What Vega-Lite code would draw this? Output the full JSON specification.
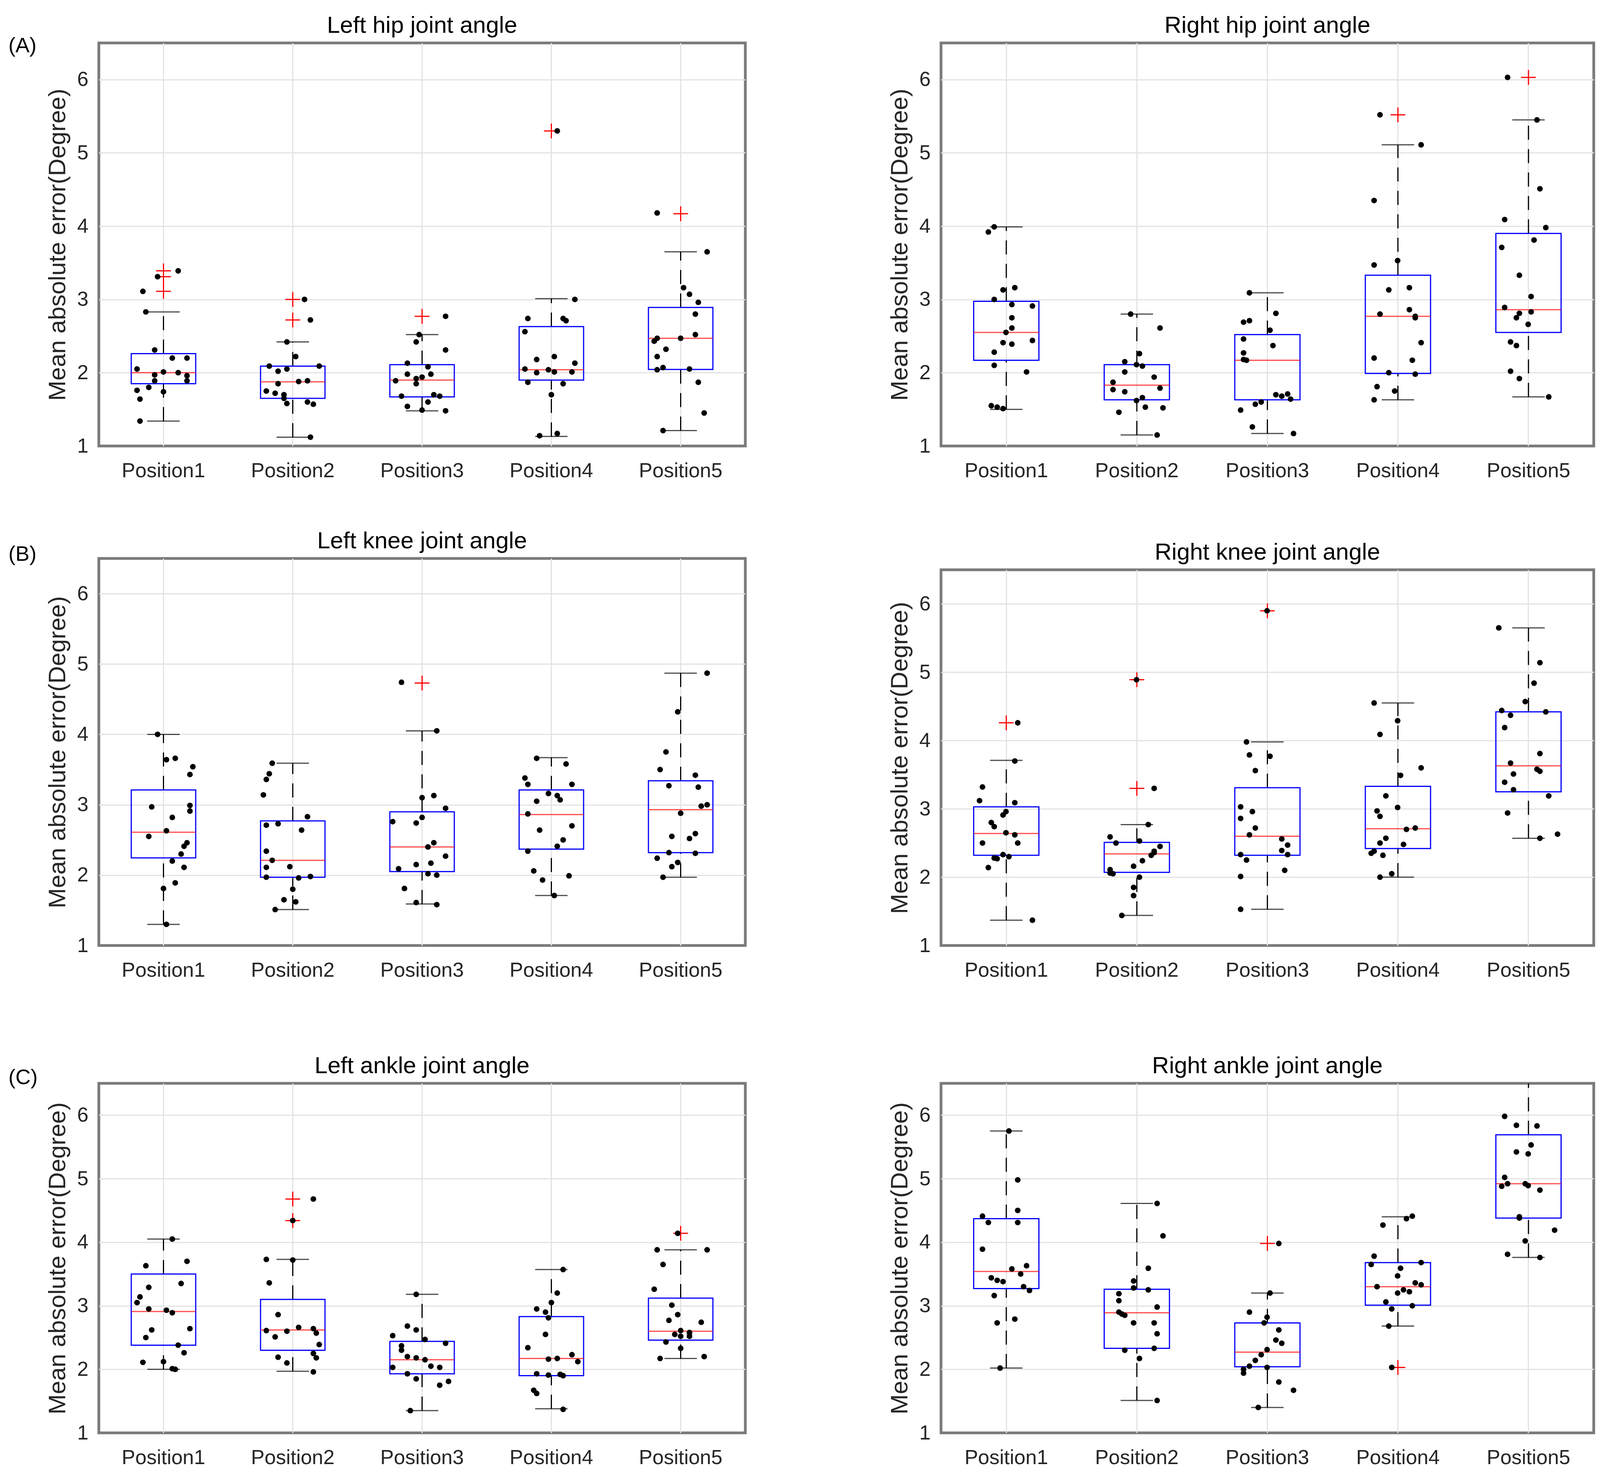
{
  "$schema": "https://vega.github.io/schema/vega-lite/v6.json",
  "background": "white",
  "padding": {"left": 21, "top": 32, "right": 0, "bottom": 0},
  "datasets": {
    "groups": [
      {"panel": "LH", "pos": "Position1", "q1": 1.85, "med": 2.0, "q3": 2.26, "lo": 1.34, "hi": 2.83, "out": [3.39, 3.31, 3.11],
       "v": [3.39, 3.31, 3.11, 2.83, 2.31, 2.2, 2.2, 2.05, 2.01, 2.0, 1.97, 1.96, 1.89, 1.89, 1.8, 1.76, 1.74, 1.64, 1.34],
       "subject": [15, 8, 3, 4, 7, 13, 18, 1, 10, 15, 7, 18, 7, 18, 5, 1, 10, 2, 2]},
      {"panel": "LH", "pos": "Position2", "q1": 1.65, "med": 1.875, "q3": 2.09, "lo": 1.12, "hi": 2.42, "out": [3.0, 2.72],
       "v": [3.0, 2.72, 2.42, 2.22, 2.09, 2.09, 2.05, 2.02, 1.89, 1.88, 1.85, 1.75, 1.72, 1.7, 1.65, 1.6, 1.58, 1.57, 1.12],
       "subject": [14, 16, 8, 11, 2, 19, 8, 5, 15, 12, 5, 1, 4, 7, 7, 15, 8, 17, 16]},
      {"panel": "LH", "pos": "Position3", "q1": 1.67, "med": 1.9, "q3": 2.11, "lo": 1.48, "hi": 2.52, "out": [2.77],
       "v": [2.77, 2.52, 2.42, 2.31, 2.13, 2.08, 1.98, 1.98, 1.94, 1.92, 1.89, 1.85, 1.7, 1.68, 1.68, 1.6, 1.54, 1.49, 1.48],
       "subject": [18, 9, 8, 18, 5, 12, 5, 13, 10, 8, 1, 8, 14, 3, 16, 12, 5, 10, 18]},
      {"panel": "LH", "pos": "Position4", "q1": 1.9, "med": 2.04, "q3": 2.63, "lo": 1.13, "hi": 3.01, "out": [5.3],
       "v": [5.3, 3.0, 2.74, 2.74, 2.71, 2.56, 2.22, 2.18, 2.13, 2.05, 2.04, 2.01, 2.01, 2.0, 1.87, 1.85, 1.7, 1.17, 1.14],
       "subject": [12, 18, 2, 14, 15, 1, 11, 5, 18, 1, 9, 11, 17, 5, 2, 14, 10, 12, 6]},
      {"panel": "LH", "pos": "Position5", "q1": 2.045, "med": 2.47, "q3": 2.89, "lo": 1.21, "hi": 3.65, "out": [4.17],
       "v": [4.18, 3.65, 3.16, 3.07, 2.96, 2.8, 2.52, 2.47, 2.47, 2.43, 2.32, 2.22, 2.07, 2.05, 2.04, 1.87, 1.45, 1.21],
       "subject": [2, 19, 11, 13, 16, 15, 15, 2, 10, 1, 5, 2, 4, 13, 2, 16, 18, 4]},

      {"panel": "RH", "pos": "Position1", "q1": 2.17, "med": 2.55, "q3": 2.975, "lo": 1.5, "hi": 3.99, "out": [],
       "v": [3.99, 3.92, 3.16, 3.13, 3.0, 2.93, 2.91, 2.75, 2.61, 2.55, 2.44, 2.41, 2.39, 2.28, 2.1, 2.01, 1.55, 1.53, 1.51],
       "subject": [6, 4, 13, 9, 6, 12, 19, 12, 12, 10, 19, 9, 12, 6, 6, 17, 5, 7, 9]},
      {"panel": "RH", "pos": "Position2", "q1": 1.63, "med": 1.83, "q3": 2.11, "lo": 1.15, "hi": 2.8, "out": [],
       "v": [2.8, 2.61, 2.26, 2.15, 2.11, 2.09, 2.01, 1.94, 1.87, 1.79, 1.77, 1.74, 1.66, 1.62, 1.53, 1.52, 1.46, 1.15],
       "subject": [8, 18, 11, 6, 10, 12, 6, 16, 2, 18, 2, 6, 12, 10, 13, 19, 4, 17]},
      {"panel": "RH", "pos": "Position3", "q1": 1.63, "med": 2.17, "q3": 2.52, "lo": 1.17, "hi": 3.09, "out": [],
       "v": [3.09, 2.81, 2.71, 2.69, 2.58, 2.46, 2.37, 2.27, 2.18, 2.17, 1.71, 1.7, 1.68, 1.64, 1.6, 1.57, 1.49, 1.26, 1.17],
       "subject": [4, 13, 4, 2, 11, 2, 12, 2, 2, 3, 17, 13, 15, 18, 8, 6, 1, 5, 19]},
      {"panel": "RH", "pos": "Position4", "q1": 1.99, "med": 2.77, "q3": 3.33, "lo": 1.63, "hi": 5.11, "out": [5.52],
       "v": [5.52, 5.11, 4.35, 3.53, 3.47, 3.16, 3.13, 2.86, 2.8, 2.77, 2.75, 2.41, 2.2, 2.17, 2.0, 1.98, 1.81, 1.75, 1.63],
       "subject": [4, 18, 2, 10, 2, 14, 7, 14, 4, 16, 16, 18, 2, 15, 7, 16, 3, 9, 2]},
      {"panel": "RH", "pos": "Position5", "q1": 2.55, "med": 2.86, "q3": 3.9, "lo": 1.67, "hi": 5.45, "out": [6.03],
       "v": [6.03, 5.45, 4.51, 4.09, 3.98, 3.81, 3.71, 3.33, 3.04, 2.89, 2.83, 2.81, 2.75, 2.66, 2.42, 2.37, 2.02, 1.92, 1.67],
       "subject": [3, 13, 14, 2, 16, 12, 1, 7, 11, 2, 11, 7, 6, 10, 4, 6, 4, 7, 17]},

      {"panel": "LK", "pos": "Position1", "q1": 2.245, "med": 2.61, "q3": 3.21, "lo": 1.3, "hi": 4.0, "out": [],
       "v": [4.0, 3.66, 3.64, 3.54, 3.43, 2.99, 2.97, 2.91, 2.82, 2.63, 2.55, 2.46, 2.41, 2.3, 2.2, 2.11, 1.89, 1.81, 1.3],
       "subject": [8, 14, 11, 20, 19, 19, 6, 19, 13, 11, 5, 18, 17, 16, 13, 17, 14, 10, 11]},
      {"panel": "LK", "pos": "Position2", "q1": 1.97, "med": 2.21, "q3": 2.77, "lo": 1.51, "hi": 3.59, "out": [],
       "v": [3.59, 3.44, 3.36, 3.14, 2.83, 2.73, 2.71, 2.64, 2.34, 2.21, 2.12, 2.11, 1.98, 1.97, 1.96, 1.8, 1.65, 1.62, 1.51],
       "subject": [3, 2, 1, 0, 15, 5, 1, 13, 1, 3, 9, 1, 16, 1, 12, 10, 7, 11, 4]},
      {"panel": "LK", "pos": "Position3", "q1": 2.05, "med": 2.4, "q3": 2.9, "lo": 1.59, "hi": 4.05, "out": [4.73],
       "v": [4.74, 4.05, 3.13, 3.1, 2.95, 2.82, 2.76, 2.74, 2.46, 2.4, 2.27, 2.17, 2.15, 2.09, 2.02, 2.0, 1.81, 1.61, 1.58],
       "subject": [3, 15, 14, 10, 18, 10, 0, 8, 14, 12, 18, 13, 8, 2, 12, 15, 4, 8, 15]},
      {"panel": "LK", "pos": "Position4", "q1": 2.37, "med": 2.86, "q3": 3.21, "lo": 1.71, "hi": 3.67, "out": [],
       "v": [3.66, 3.58, 3.38, 3.29, 3.29, 3.16, 3.13, 3.07, 3.05, 2.87, 2.7, 2.64, 2.5, 2.41, 2.34, 2.06, 1.99, 1.93, 1.71],
       "subject": [5, 15, 1, 2, 17, 9, 12, 13, 5, 2, 17, 6, 14, 12, 2, 4, 16, 7, 11]},
      {"panel": "LK", "pos": "Position5", "q1": 2.32, "med": 2.93, "q3": 3.34, "lo": 1.97, "hi": 4.87, "out": [],
       "v": [4.87, 4.32, 3.75, 3.5, 3.42, 3.27, 3.25, 3.0, 2.98, 2.88, 2.59, 2.55, 2.52, 2.32, 2.31, 2.24, 2.18, 2.12, 1.97],
       "subject": [19, 9, 5, 3, 15, 6, 16, 19, 17, 10, 15, 7, 13, 6, 15, 2, 9, 7, 4]},

      {"panel": "RK", "pos": "Position1", "q1": 2.32, "med": 2.64, "q3": 3.03, "lo": 1.37, "hi": 3.71, "out": [4.26],
       "v": [4.26, 3.7, 3.32, 3.12, 3.09, 2.96, 2.91, 2.8, 2.74, 2.65, 2.62, 2.5, 2.5, 2.33, 2.3, 2.28, 2.27, 2.14, 1.37],
       "subject": [14, 13, 2, 1, 13, 10, 9, 5, 6, 10, 13, 2, 14, 9, 11, 6, 7, 4, 19]},
      {"panel": "RK", "pos": "Position2", "q1": 2.07, "med": 2.34, "q3": 2.51, "lo": 1.44, "hi": 2.77, "out": [4.89, 3.3],
       "v": [4.89, 3.3, 2.77, 2.59, 2.53, 2.5, 2.45, 2.38, 2.36, 2.32, 2.24, 2.16, 2.11, 2.06, 2.05, 2.0, 1.85, 1.73, 1.44],
       "subject": [10, 16, 14, 1, 11, 3, 18, 16, 16, 15, 12, 9, 1, 1, 2, 11, 9, 9, 5]},
      {"panel": "RK", "pos": "Position3", "q1": 2.32, "med": 2.6, "q3": 3.31, "lo": 1.53, "hi": 3.98, "out": [5.9],
       "v": [5.9, 3.98, 3.79, 3.77, 3.56, 3.03, 2.96, 2.86, 2.72, 2.62, 2.56, 2.47, 2.39, 2.33, 2.33, 2.25, 2.1, 2.01, 1.53],
       "subject": [10, 3, 4, 11, 6, 1, 5, 1, 6, 4, 15, 17, 15, 1, 17, 3, 16, 1, 1]},
      {"panel": "RK", "pos": "Position4", "q1": 2.42, "med": 2.71, "q3": 3.33, "lo": 2.0, "hi": 4.55, "out": [],
       "v": [4.55, 4.29, 4.09, 3.6, 3.49, 3.19, 3.02, 2.97, 2.89, 2.72, 2.7, 2.57, 2.5, 2.48, 2.38, 2.35, 2.32, 2.05, 2.0],
       "subject": [2, 10, 4, 18, 11, 6, 10, 3, 4, 16, 13, 6, 4, 12, 2, 1, 5, 8, 4]},
      {"panel": "RK", "pos": "Position5", "q1": 3.25, "med": 3.63, "q3": 4.42, "lo": 2.57, "hi": 5.65, "out": [],
       "v": [5.65, 5.14, 4.84, 4.57, 4.44, 4.42, 4.37, 4.19, 3.81, 3.67, 3.58, 3.55, 3.51, 3.39, 3.28, 3.19, 2.94, 2.63, 2.57],
       "subject": [0, 14, 12, 9, 1, 16, 4, 2, 14, 4, 13, 14, 5, 2, 5, 17, 3, 20, 14]},

      {"panel": "LA", "pos": "Position1", "q1": 2.38, "med": 2.91, "q3": 3.5, "lo": 2.0, "hi": 4.05, "out": [],
       "v": [4.05, 3.7, 3.63, 3.35, 3.29, 3.14, 3.05, 2.95, 2.93, 2.89, 2.64, 2.62, 2.5, 2.38, 2.26, 2.12, 2.11, 2.01, 2.0],
       "subject": [13, 18, 4, 16, 5, 2, 1, 5, 11, 13, 19, 6, 4, 15, 17, 10, 3, 13, 14]},
      {"panel": "LA", "pos": "Position2", "q1": 2.3, "med": 2.62, "q3": 3.1, "lo": 1.97, "hi": 3.73, "out": [4.68, 4.34],
       "v": [4.68, 4.34, 3.73, 3.72, 3.36, 2.86, 2.66, 2.64, 2.61, 2.6, 2.57, 2.51, 2.39, 2.25, 2.19, 2.18, 2.1, 1.96],
       "subject": [17, 10, 1, 10, 2, 5, 12, 17, 1, 8, 18, 4, 19, 17, 5, 18, 8, 17]},
      {"panel": "LA", "pos": "Position3", "q1": 1.93, "med": 2.15, "q3": 2.44, "lo": 1.35, "hi": 3.18, "out": [],
       "v": [3.18, 2.68, 2.62, 2.53, 2.47, 2.41, 2.37, 2.3, 2.2, 2.18, 2.15, 2.05, 2.03, 2.03, 1.93, 1.85, 1.81, 1.75, 1.35],
       "subject": [8, 5, 8, 0, 11, 18, 3, 3, 5, 8, 11, 13, 0, 16, 5, 8, 19, 16, 6]},
      {"panel": "LA", "pos": "Position4", "q1": 1.9, "med": 2.17, "q3": 2.83, "lo": 1.38, "hi": 3.57, "out": [],
       "v": [3.57, 3.2, 3.05, 2.95, 2.9, 2.81, 2.55, 2.34, 2.23, 2.17, 2.16, 2.12, 1.93, 1.92, 1.91, 1.9, 1.67, 1.62, 1.37],
       "subject": [14, 12, 10, 5, 8, 9, 8, 2, 17, 12, 9, 19, 5, 13, 9, 14, 4, 5, 14]},
      {"panel": "LA", "pos": "Position5", "q1": 2.46, "med": 2.6, "q3": 3.12, "lo": 2.17, "hi": 3.88, "out": [4.14],
       "v": [4.14, 3.88, 3.88, 3.65, 3.26, 3.01, 2.86, 2.77, 2.74, 2.61, 2.58, 2.57, 2.55, 2.52, 2.52, 2.43, 2.33, 2.2, 2.17],
       "subject": [9, 2, 19, 4, 1, 7, 9, 6, 17, 10, 13, 13, 8, 10, 13, 5, 10, 18, 3]},

      {"panel": "RA", "pos": "Position1", "q1": 3.27, "med": 3.54, "q3": 4.37, "lo": 2.02, "hi": 5.75, "out": [],
       "v": [5.75, 4.98, 4.5, 4.41, 4.31, 4.31, 3.89, 3.63, 3.58, 3.5, 3.44, 3.4, 3.38, 3.3, 3.24, 3.16, 2.79, 2.73, 2.02],
       "subject": [11, 14, 14, 2, 4, 14, 2, 17, 12, 15, 5, 7, 9, 16, 18, 6, 13, 7, 8]},
      {"panel": "RA", "pos": "Position2", "q1": 2.33, "med": 2.89, "q3": 3.26, "lo": 1.51, "hi": 4.61, "out": [],
       "v": [4.61, 4.1, 3.59, 3.39, 3.28, 3.25, 3.19, 3.08, 2.98, 2.9, 2.87, 2.85, 2.73, 2.73, 2.56, 2.33, 2.3, 2.17, 1.51],
       "subject": [17, 19, 14, 9, 9, 14, 4, 4, 17, 4, 5, 6, 9, 16, 17, 16, 6, 11, 17]},
      {"panel": "RA", "pos": "Position3", "q1": 2.04, "med": 2.27, "q3": 2.73, "lo": 1.4, "hi": 3.2, "out": [3.98],
       "v": [3.98, 3.2, 2.9, 2.82, 2.73, 2.62, 2.46, 2.41, 2.31, 2.23, 2.14, 2.05, 2.03, 2.0, 1.94, 1.8, 1.67, 1.4],
       "subject": [14, 11, 4, 10, 9, 14, 13, 15, 10, 8, 6, 4, 10, 2, 2, 14, 19, 7]},
      {"panel": "RA", "pos": "Position4", "q1": 3.01, "med": 3.3, "q3": 3.68, "lo": 2.68, "hi": 4.4, "out": [2.03],
       "v": [4.41, 4.37, 4.27, 3.78, 3.68, 3.65, 3.59, 3.47, 3.36, 3.33, 3.3, 3.25, 3.22, 3.2, 3.06, 3.0, 2.95, 2.68, 2.03],
       "subject": [15, 13, 5, 2, 18, 1, 11, 10, 16, 18, 3, 12, 14, 10, 6, 15, 8, 7, 8]},
      {"panel": "RA", "pos": "Position5", "q1": 4.38, "med": 4.92, "q3": 5.69, "lo": 3.76, "hi": 6.8, "out": [],
       "v": [6.8, 5.98, 5.84, 5.83, 5.53, 5.42, 5.39, 5.02, 4.92, 4.92, 4.89, 4.88, 4.82, 4.4, 4.38, 4.19, 4.02, 3.81, 3.76],
       "subject": [10, 2, 6, 13, 11, 6, 10, 2, 3, 9, 10, 1, 14, 7, 7, 19, 9, 3, 14]}
    ]
  },
  "hconcat": [
    {
      "spacing": 117,
      "vconcat": [
        {
          "title": {"text": "(A)", "anchor": "start", "frame": "bounds", "orient": "top", "align": "left", "baseline": "alphabetic", "offset": -155, "dx": -91, "fontSize": 54, "color": "#000000"},
          "hconcat": [
            {
              "width": 1655, "height": 1032,
              "title": "Left hip joint angle",
              "data": {"name": "groups"},
              "transform": [{"filter": "datum.panel === 'LH'"}],
              "encoding": {"x": {"field": "pos", "type": "nominal", "scale": {"type": "band", "paddingInner": 0.5, "paddingOuter": 0.25}, "axis": {"title": null, "labelAngle": 0, "labelPadding": 38, "labelLimit": 500}}},
              "layer": [
                {"mark": {"type": "rule", "color": "#000000", "strokeWidth": 3, "strokeDash": [36, 24], "clip": true},
                 "encoding": {"y": {"field": "q3", "type": "quantitative", "scale": {"domain": [1, 6.5], "nice": false, "zero": false}, "title": "Mean absolute error(Degree)", "axis": {"values": [1, 2, 3, 4, 5, 6], "format": "d", "labelPadding": 27, "titlePadding": 18, "gridColor": {"condition": {"test": "datum.value === 1", "value": "transparent"}, "value": "#e3e3e3"}}}, "y2": {"field": "hi"}}},
                {"mark": {"type": "rule", "color": "#000000", "strokeWidth": 3, "strokeDash": [36, 24], "clip": true},
                 "encoding": {"y": {"field": "lo", "type": "quantitative", "title": "Mean absolute error(Degree)"}, "y2": {"field": "q1"}}},
                {"mark": {"type": "tick", "color": "#000000", "thickness": 3, "size": 83, "clip": true},
                 "encoding": {"y": {"field": "hi", "type": "quantitative", "title": "Mean absolute error(Degree)"}}},
                {"mark": {"type": "tick", "color": "#000000", "thickness": 3, "size": 83, "clip": true},
                 "encoding": {"y": {"field": "lo", "type": "quantitative", "title": "Mean absolute error(Degree)"}}},
                {"mark": {"type": "bar", "filled": false, "color": "#0000ff", "strokeWidth": 3, "width": 165},
                 "encoding": {"y": {"field": "q1", "type": "quantitative", "title": "Mean absolute error(Degree)"}, "y2": {"field": "q3"}}},
                {"mark": {"type": "tick", "color": "#ff0000", "thickness": 3, "size": 165},
                 "encoding": {"y": {"field": "med", "type": "quantitative", "title": "Mean absolute error(Degree)"}}},
                {"transform": [{"flatten": ["out"]}],
                 "mark": {"type": "point", "shape": "M-1,0H1M0,-1V1", "size": 1444, "color": "#ff0000", "strokeWidth": 3, "filled": false, "opacity": 1},
                 "encoding": {"y": {"field": "out", "type": "quantitative", "title": "Mean absolute error(Degree)"}}},
                {"transform": [{"flatten": ["v", "subject"]}],
                 "mark": {"type": "circle", "size": 210, "color": "#000000", "opacity": 1, "clip": true},
                 "encoding": {"y": {"field": "v", "type": "quantitative", "title": "Mean absolute error(Degree)"}, "xOffset": {"field": "subject", "type": "nominal", "scale": {"type": "point", "domain": [0, 1, 2, 3, 4, 5, 6, 7, 8, 9, 10, 11, 12, 13, 14, 15, 16, 17, 18, 19, 20], "padding": 15}}}}
              ]
            }
          ]
        },
        {
          "spacing": 182,
          "vconcat": [
            {
              "title": {"text": "(B)", "anchor": "start", "frame": "bounds", "orient": "top", "align": "left", "baseline": "alphabetic", "offset": -137, "dx": -91, "fontSize": 54, "color": "#000000"},
              "hconcat": [
                {
                  "width": 1655, "height": 991,
                  "title": "Left knee joint angle",
                  "data": {"name": "groups"},
                  "transform": [{"filter": "datum.panel === 'LK'"}],
                  "encoding": {"x": {"field": "pos", "type": "nominal", "scale": {"type": "band", "paddingInner": 0.5, "paddingOuter": 0.25}, "axis": {"title": null, "labelAngle": 0, "labelPadding": 38, "labelLimit": 500}}},
                  "layer": [
                    {"mark": {"type": "rule", "color": "#000000", "strokeWidth": 3, "strokeDash": [36, 24], "clip": true},
                     "encoding": {"y": {"field": "q3", "type": "quantitative", "scale": {"domain": [1, 6.5], "nice": false, "zero": false}, "title": "Mean absolute error(Degree)", "axis": {"values": [1, 2, 3, 4, 5, 6], "format": "d", "labelPadding": 27, "titlePadding": 18, "gridColor": {"condition": {"test": "datum.value === 1", "value": "transparent"}, "value": "#e3e3e3"}}}, "y2": {"field": "hi"}}},
                    {"mark": {"type": "rule", "color": "#000000", "strokeWidth": 3, "strokeDash": [36, 24], "clip": true},
                     "encoding": {"y": {"field": "lo", "type": "quantitative", "title": "Mean absolute error(Degree)"}, "y2": {"field": "q1"}}},
                    {"mark": {"type": "tick", "color": "#000000", "thickness": 3, "size": 83, "clip": true},
                     "encoding": {"y": {"field": "hi", "type": "quantitative", "title": "Mean absolute error(Degree)"}}},
                    {"mark": {"type": "tick", "color": "#000000", "thickness": 3, "size": 83, "clip": true},
                     "encoding": {"y": {"field": "lo", "type": "quantitative", "title": "Mean absolute error(Degree)"}}},
                    {"mark": {"type": "bar", "filled": false, "color": "#0000ff", "strokeWidth": 3, "width": 165},
                     "encoding": {"y": {"field": "q1", "type": "quantitative", "title": "Mean absolute error(Degree)"}, "y2": {"field": "q3"}}},
                    {"mark": {"type": "tick", "color": "#ff0000", "thickness": 3, "size": 165},
                     "encoding": {"y": {"field": "med", "type": "quantitative", "title": "Mean absolute error(Degree)"}}},
                    {"transform": [{"flatten": ["out"]}],
                     "mark": {"type": "point", "shape": "M-1,0H1M0,-1V1", "size": 1444, "color": "#ff0000", "strokeWidth": 3, "filled": false, "opacity": 1},
                     "encoding": {"y": {"field": "out", "type": "quantitative", "title": "Mean absolute error(Degree)"}}},
                    {"transform": [{"flatten": ["v", "subject"]}],
                     "mark": {"type": "circle", "size": 210, "color": "#000000", "opacity": 1, "clip": true},
                     "encoding": {"y": {"field": "v", "type": "quantitative", "title": "Mean absolute error(Degree)"}, "xOffset": {"field": "subject", "type": "nominal", "scale": {"type": "point", "domain": [0, 1, 2, 3, 4, 5, 6, 7, 8, 9, 10, 11, 12, 13, 14, 15, 16, 17, 18, 19, 20], "padding": 15}}}}
                  ]
                }
              ]
            },
            {
              "title": {"text": "(C)", "anchor": "start", "frame": "bounds", "orient": "top", "align": "left", "baseline": "alphabetic", "offset": -133, "dx": -91, "fontSize": 54, "color": "#000000"},
              "hconcat": [
                {
                  "width": 1655, "height": 895,
                  "title": "Left ankle joint angle",
                  "data": {"name": "groups"},
                  "transform": [{"filter": "datum.panel === 'LA'"}],
                  "encoding": {"x": {"field": "pos", "type": "nominal", "scale": {"type": "band", "paddingInner": 0.5, "paddingOuter": 0.25}, "axis": {"title": null, "labelAngle": 0, "labelPadding": 38, "labelLimit": 500}}},
                  "layer": [
                    {"mark": {"type": "rule", "color": "#000000", "strokeWidth": 3, "strokeDash": [36, 24], "clip": true},
                     "encoding": {"y": {"field": "q3", "type": "quantitative", "scale": {"domain": [1, 6.5], "nice": false, "zero": false}, "title": "Mean absolute error(Degree)", "axis": {"values": [1, 2, 3, 4, 5, 6], "format": "d", "labelPadding": 27, "titlePadding": 18, "gridColor": {"condition": {"test": "datum.value === 1", "value": "transparent"}, "value": "#e3e3e3"}}}, "y2": {"field": "hi"}}},
                    {"mark": {"type": "rule", "color": "#000000", "strokeWidth": 3, "strokeDash": [36, 24], "clip": true},
                     "encoding": {"y": {"field": "lo", "type": "quantitative", "title": "Mean absolute error(Degree)"}, "y2": {"field": "q1"}}},
                    {"mark": {"type": "tick", "color": "#000000", "thickness": 3, "size": 83, "clip": true},
                     "encoding": {"y": {"field": "hi", "type": "quantitative", "title": "Mean absolute error(Degree)"}}},
                    {"mark": {"type": "tick", "color": "#000000", "thickness": 3, "size": 83, "clip": true},
                     "encoding": {"y": {"field": "lo", "type": "quantitative", "title": "Mean absolute error(Degree)"}}},
                    {"mark": {"type": "bar", "filled": false, "color": "#0000ff", "strokeWidth": 3, "width": 165},
                     "encoding": {"y": {"field": "q1", "type": "quantitative", "title": "Mean absolute error(Degree)"}, "y2": {"field": "q3"}}},
                    {"mark": {"type": "tick", "color": "#ff0000", "thickness": 3, "size": 165},
                     "encoding": {"y": {"field": "med", "type": "quantitative", "title": "Mean absolute error(Degree)"}}},
                    {"transform": [{"flatten": ["out"]}],
                     "mark": {"type": "point", "shape": "M-1,0H1M0,-1V1", "size": 1444, "color": "#ff0000", "strokeWidth": 3, "filled": false, "opacity": 1},
                     "encoding": {"y": {"field": "out", "type": "quantitative", "title": "Mean absolute error(Degree)"}}},
                    {"transform": [{"flatten": ["v", "subject"]}],
                     "mark": {"type": "circle", "size": 210, "color": "#000000", "opacity": 1, "clip": true},
                     "encoding": {"y": {"field": "v", "type": "quantitative", "title": "Mean absolute error(Degree)"}, "xOffset": {"field": "subject", "type": "nominal", "scale": {"type": "point", "domain": [0, 1, 2, 3, 4, 5, 6, 7, 8, 9, 10, 11, 12, 13, 14, 15, 16, 17, 18, 19, 20], "padding": 15}}}}
                  ]
                }
              ]
            }
          ]
        }
      ]
    },
    {
      "spacing": 146,
      "vconcat": [
        {
          "width": 1671, "height": 1032,
          "title": "Right hip joint angle",
          "data": {"name": "groups"},
          "transform": [{"filter": "datum.panel === 'RH'"}],
          "encoding": {"x": {"field": "pos", "type": "nominal", "scale": {"type": "band", "paddingInner": 0.5, "paddingOuter": 0.25}, "axis": {"title": null, "labelAngle": 0, "labelPadding": 38, "labelLimit": 500}}},
          "layer": [
            {"mark": {"type": "rule", "color": "#000000", "strokeWidth": 3, "strokeDash": [36, 24], "clip": true},
             "encoding": {"y": {"field": "q3", "type": "quantitative", "scale": {"domain": [1, 6.5], "nice": false, "zero": false}, "title": "Mean absolute error(Degree)", "axis": {"values": [1, 2, 3, 4, 5, 6], "format": "d", "labelPadding": 27, "titlePadding": 18, "gridColor": {"condition": {"test": "datum.value === 1", "value": "transparent"}, "value": "#e3e3e3"}}}, "y2": {"field": "hi"}}},
            {"mark": {"type": "rule", "color": "#000000", "strokeWidth": 3, "strokeDash": [36, 24], "clip": true},
             "encoding": {"y": {"field": "lo", "type": "quantitative", "title": "Mean absolute error(Degree)"}, "y2": {"field": "q1"}}},
            {"mark": {"type": "tick", "color": "#000000", "thickness": 3, "size": 83, "clip": true},
             "encoding": {"y": {"field": "hi", "type": "quantitative", "title": "Mean absolute error(Degree)"}}},
            {"mark": {"type": "tick", "color": "#000000", "thickness": 3, "size": 83, "clip": true},
             "encoding": {"y": {"field": "lo", "type": "quantitative", "title": "Mean absolute error(Degree)"}}},
            {"mark": {"type": "bar", "filled": false, "color": "#0000ff", "strokeWidth": 3, "width": 167},
             "encoding": {"y": {"field": "q1", "type": "quantitative", "title": "Mean absolute error(Degree)"}, "y2": {"field": "q3"}}},
            {"mark": {"type": "tick", "color": "#ff0000", "thickness": 3, "size": 167},
             "encoding": {"y": {"field": "med", "type": "quantitative", "title": "Mean absolute error(Degree)"}}},
            {"transform": [{"flatten": ["out"]}],
             "mark": {"type": "point", "shape": "M-1,0H1M0,-1V1", "size": 1444, "color": "#ff0000", "strokeWidth": 3, "filled": false, "opacity": 1},
             "encoding": {"y": {"field": "out", "type": "quantitative", "title": "Mean absolute error(Degree)"}}},
            {"transform": [{"flatten": ["v", "subject"]}],
             "mark": {"type": "circle", "size": 210, "color": "#000000", "opacity": 1, "clip": true},
             "encoding": {"y": {"field": "v", "type": "quantitative", "title": "Mean absolute error(Degree)"}, "xOffset": {"field": "subject", "type": "nominal", "scale": {"type": "point", "domain": [0, 1, 2, 3, 4, 5, 6, 7, 8, 9, 10, 11, 12, 13, 14, 15, 16, 17, 18, 19, 20], "padding": 15}}}}
          ]
        },
        {
          "spacing": 182,
          "vconcat": [
            {
              "width": 1671, "height": 962,
              "title": "Right knee joint angle",
              "data": {"name": "groups"},
              "transform": [{"filter": "datum.panel === 'RK'"}],
              "encoding": {"x": {"field": "pos", "type": "nominal", "scale": {"type": "band", "paddingInner": 0.5, "paddingOuter": 0.25}, "axis": {"title": null, "labelAngle": 0, "labelPadding": 38, "labelLimit": 500}}},
              "layer": [
                {"mark": {"type": "rule", "color": "#000000", "strokeWidth": 3, "strokeDash": [36, 24], "clip": true},
                 "encoding": {"y": {"field": "q3", "type": "quantitative", "scale": {"domain": [1, 6.5], "nice": false, "zero": false}, "title": "Mean absolute error(Degree)", "axis": {"values": [1, 2, 3, 4, 5, 6], "format": "d", "labelPadding": 27, "titlePadding": 18, "gridColor": {"condition": {"test": "datum.value === 1", "value": "transparent"}, "value": "#e3e3e3"}}}, "y2": {"field": "hi"}}},
                {"mark": {"type": "rule", "color": "#000000", "strokeWidth": 3, "strokeDash": [36, 24], "clip": true},
                 "encoding": {"y": {"field": "lo", "type": "quantitative", "title": "Mean absolute error(Degree)"}, "y2": {"field": "q1"}}},
                {"mark": {"type": "tick", "color": "#000000", "thickness": 3, "size": 83, "clip": true},
                 "encoding": {"y": {"field": "hi", "type": "quantitative", "title": "Mean absolute error(Degree)"}}},
                {"mark": {"type": "tick", "color": "#000000", "thickness": 3, "size": 83, "clip": true},
                 "encoding": {"y": {"field": "lo", "type": "quantitative", "title": "Mean absolute error(Degree)"}}},
                {"mark": {"type": "bar", "filled": false, "color": "#0000ff", "strokeWidth": 3, "width": 167},
                 "encoding": {"y": {"field": "q1", "type": "quantitative", "title": "Mean absolute error(Degree)"}, "y2": {"field": "q3"}}},
                {"mark": {"type": "tick", "color": "#ff0000", "thickness": 3, "size": 167},
                 "encoding": {"y": {"field": "med", "type": "quantitative", "title": "Mean absolute error(Degree)"}}},
                {"transform": [{"flatten": ["out"]}],
                 "mark": {"type": "point", "shape": "M-1,0H1M0,-1V1", "size": 1444, "color": "#ff0000", "strokeWidth": 3, "filled": false, "opacity": 1},
                 "encoding": {"y": {"field": "out", "type": "quantitative", "title": "Mean absolute error(Degree)"}}},
                {"transform": [{"flatten": ["v", "subject"]}],
                 "mark": {"type": "circle", "size": 210, "color": "#000000", "opacity": 1, "clip": true},
                 "encoding": {"y": {"field": "v", "type": "quantitative", "title": "Mean absolute error(Degree)"}, "xOffset": {"field": "subject", "type": "nominal", "scale": {"type": "point", "domain": [0, 1, 2, 3, 4, 5, 6, 7, 8, 9, 10, 11, 12, 13, 14, 15, 16, 17, 18, 19, 20], "padding": 15}}}}
              ]
            },
            {
              "width": 1671, "height": 895,
              "title": "Right ankle joint angle",
              "data": {"name": "groups"},
              "transform": [{"filter": "datum.panel === 'RA'"}],
              "encoding": {"x": {"field": "pos", "type": "nominal", "scale": {"type": "band", "paddingInner": 0.5, "paddingOuter": 0.25}, "axis": {"title": null, "labelAngle": 0, "labelPadding": 38, "labelLimit": 500}}},
              "layer": [
                {"mark": {"type": "rule", "color": "#000000", "strokeWidth": 3, "strokeDash": [36, 24], "clip": true},
                 "encoding": {"y": {"field": "q3", "type": "quantitative", "scale": {"domain": [1, 6.5], "nice": false, "zero": false}, "title": "Mean absolute error(Degree)", "axis": {"values": [1, 2, 3, 4, 5, 6], "format": "d", "labelPadding": 27, "titlePadding": 18, "gridColor": {"condition": {"test": "datum.value === 1", "value": "transparent"}, "value": "#e3e3e3"}}}, "y2": {"field": "hi"}}},
                {"mark": {"type": "rule", "color": "#000000", "strokeWidth": 3, "strokeDash": [36, 24], "clip": true},
                 "encoding": {"y": {"field": "lo", "type": "quantitative", "title": "Mean absolute error(Degree)"}, "y2": {"field": "q1"}}},
                {"mark": {"type": "tick", "color": "#000000", "thickness": 3, "size": 83, "clip": true},
                 "encoding": {"y": {"field": "hi", "type": "quantitative", "title": "Mean absolute error(Degree)"}}},
                {"mark": {"type": "tick", "color": "#000000", "thickness": 3, "size": 83, "clip": true},
                 "encoding": {"y": {"field": "lo", "type": "quantitative", "title": "Mean absolute error(Degree)"}}},
                {"mark": {"type": "bar", "filled": false, "color": "#0000ff", "strokeWidth": 3, "width": 167},
                 "encoding": {"y": {"field": "q1", "type": "quantitative", "title": "Mean absolute error(Degree)"}, "y2": {"field": "q3"}}},
                {"mark": {"type": "tick", "color": "#ff0000", "thickness": 3, "size": 167},
                 "encoding": {"y": {"field": "med", "type": "quantitative", "title": "Mean absolute error(Degree)"}}},
                {"transform": [{"flatten": ["out"]}],
                 "mark": {"type": "point", "shape": "M-1,0H1M0,-1V1", "size": 1444, "color": "#ff0000", "strokeWidth": 3, "filled": false, "opacity": 1},
                 "encoding": {"y": {"field": "out", "type": "quantitative", "title": "Mean absolute error(Degree)"}}},
                {"transform": [{"flatten": ["v", "subject"]}],
                 "mark": {"type": "circle", "size": 210, "color": "#000000", "opacity": 1, "clip": true},
                 "encoding": {"y": {"field": "v", "type": "quantitative", "title": "Mean absolute error(Degree)"}, "xOffset": {"field": "subject", "type": "nominal", "scale": {"type": "point", "domain": [0, 1, 2, 3, 4, 5, 6, 7, 8, 9, 10, 11, 12, 13, 14, 15, 16, 17, 18, 19, 20], "padding": 15}}}}
              ]
            }
          ]
        }
      ]
    }
  ],
  "spacing": 356,
  "config": {
    "font": "Liberation Sans",
    "view": {"stroke": "#7a7a7a", "strokeWidth": 7},
    "axis": {"grid": true, "gridColor": "#e3e3e3", "gridWidth": 3, "domain": false, "ticks": false, "tickSize": 0, "labelFont": "Liberation Sans", "labelFontSize": 52, "labelColor": "#262626", "titleFont": "Liberation Sans", "titleFontSize": 62, "titleFontWeight": "normal", "titleColor": "#262626"},
    "title": {"font": "Liberation Sans", "fontSize": 60, "fontWeight": "normal", "color": "#000000", "baseline": "alphabetic", "offset": 13}
  }
}
